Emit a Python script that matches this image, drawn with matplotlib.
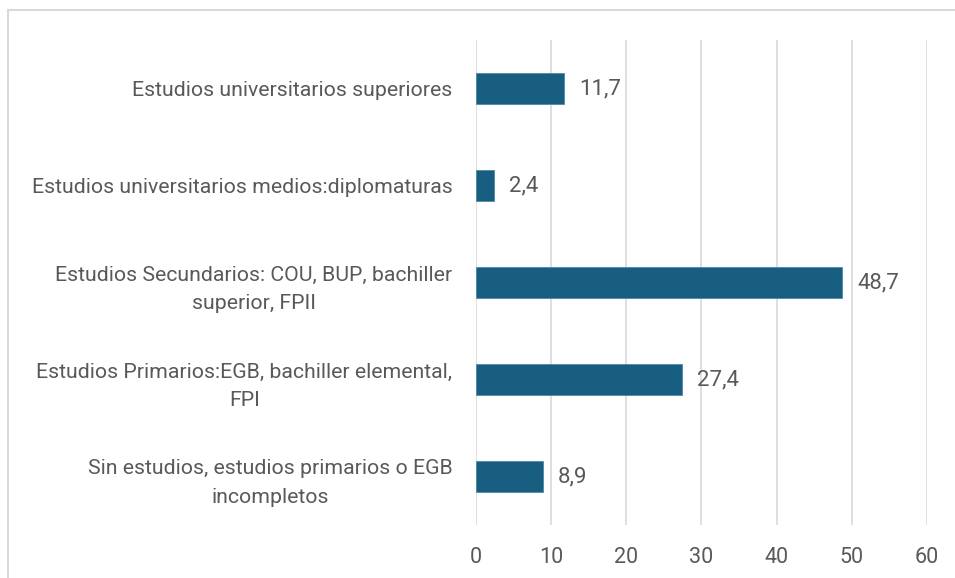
import matplotlib
matplotlib.use('Agg')
import matplotlib.pyplot as plt
from matplotlib.patches import Rectangle

categorias = [
    'Sin estudios, estudios primarios o EGB\nincompletos',
    'Estudios Primarios:EGB, bachiller elemental,\nFPI',
    'Estudios Secundarios: COU, BUP, bachiller\nsuperior, FPII',
    'Estudios universitarios medios:diplomaturas',
    'Estudios universitarios superiores',
]
valores = [8.9, 27.4, 48.7, 2.4, 11.7]
etiquetas = ['8,9', '27,4', '48,7', '2,4', '11,7']
ticks_x = [0, 10, 20, 30, 40, 50, 60]

plt.rcParams['font.family'] = ['Roboto', 'DejaVu Sans']
gris = '#595959'

fig = plt.figure(figsize=(9.55, 5.78), dpi=100)
ax = fig.add_axes([0.4984, 0.0917, 0.4723, 0.8391])

pos = list(range(len(categorias)))
ax.barh(pos, valores, height=0.32, color='#185E80', edgecolor='#4d8aa8', linewidth=0.6, zorder=3)
for p, v, t in zip(pos, valores, etiquetas):
    ax.annotate(t, (v, p), xytext=(11, 0), textcoords='offset points',
                va='center', ha='left', fontsize=16, color=gris)

ax.set_xlim(0, 60)
ax.set_ylim(-0.5, 4.5)
ax.set_xticks(ticks_x)
ax.set_yticks(pos)
ax.set_yticklabels(categorias, fontsize=15.3, color=gris, linespacing=1.65)
for lbl in ax.get_yticklabels():
    lbl.set_multialignment('center')
ax.tick_params(axis='y', length=0, pad=17)
ax.tick_params(axis='x', length=0, pad=16, labelsize=15.5, labelcolor=gris)
ax.grid(axis='x', color='#d9d9d9', linewidth=1.2, zorder=0)
for s in ax.spines.values():
    s.set_visible(False)

fig.patches.append(Rectangle((8 / 955, -0.05), 1.2, 1 - 10 / 578 + 0.05,
                             transform=fig.transFigure, fill=False,
                             edgecolor='#d9d9d9', linewidth=1.5))

fig.savefig('out.png', dpi=100)
